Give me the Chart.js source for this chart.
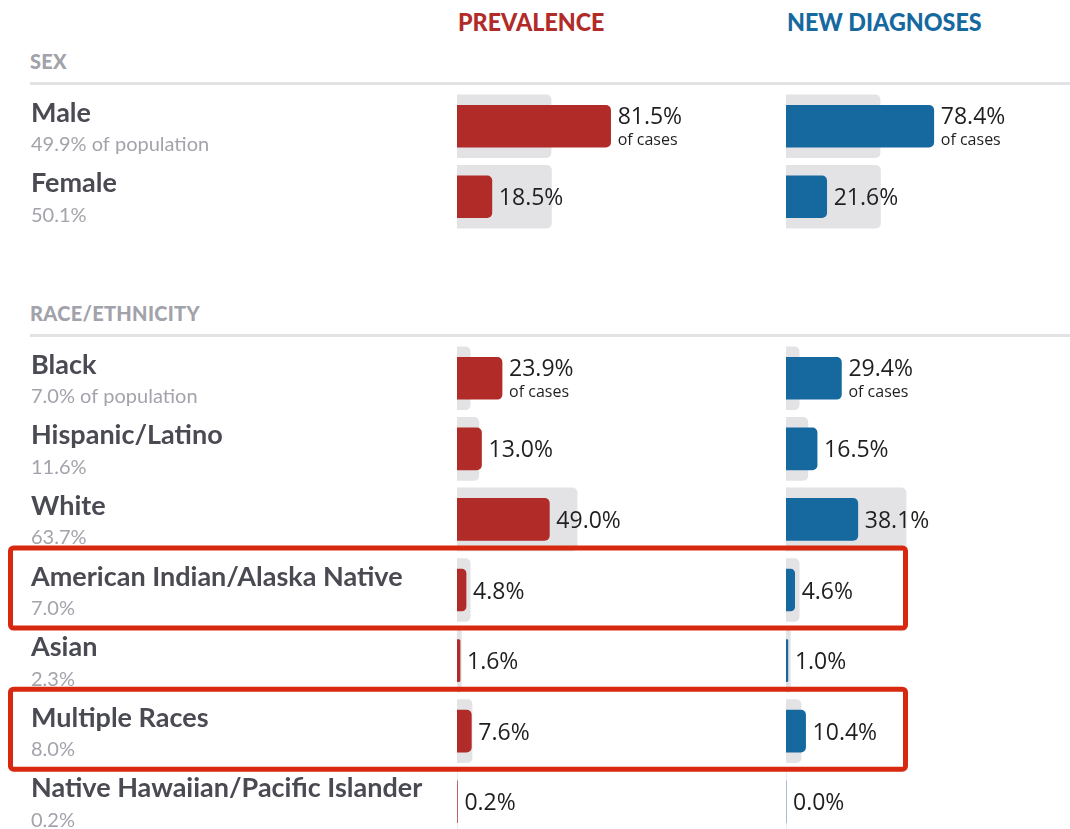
<!DOCTYPE html>
<html>
<head>
<meta charset="utf-8">
<script src="https://cdn.jsdelivr.net/npm/chart.js@4"></script>
<style>
  body { margin: 0; width: 1070px; height: 829px; overflow: hidden; background: #fff; position: relative; font-family: Lato, sans-serif; }
  .abs { position: absolute; line-height: 1; white-space: nowrap; }
  .colhead { font-family: Lato, sans-serif; font-weight: 900; font-size: 25px; top: 9px; transform: scaleX(0.93); transform-origin: 0 0; }
  .section { left: 30px; color: #a2a2aa; font-weight: 900; font-size: 20px; letter-spacing: 0.3px; }
  .rule { position: absolute; left: 30px; width: 1040px; height: 3px; background: #e3e3e6; }
  .stack { position: absolute; left: 0; width: 1070px; }
  .stack canvas { position: absolute; left: 0; top: 0; }
</style>
</head>
<body>
<div class="abs colhead" style="left:458px;color:#b12b29">PREVALENCE</div>
<div class="abs colhead" style="left:787px;color:#16699f">NEW DIAGNOSES</div>

<div class="abs section" style="top:51px">SEX</div>
<div class="rule" style="top:82px"></div>
<div class="stack" style="top:91px;height:141px">
  <canvas id="sexPrev" width="1070" height="141"></canvas>
  <canvas id="sexDiag" width="1070" height="141"></canvas>
</div>

<div class="abs section" style="top:303px">RACE/ETHNICITY</div>
<div class="rule" style="top:334px"></div>
<div class="stack" style="top:343px;height:494px">
  <canvas id="racePrev" width="1070" height="494"></canvas>
  <canvas id="raceDiag" width="1070" height="494"></canvas>
</div>

<script>
// data (percent)
const sexLabels = ['Male', 'Female']
const sexPopulation = [49.9, 50.1]
const sexPrevalence = [81.5, 18.5]
const sexDiagnoses = [78.4, 21.6]

const raceLabels = ['Black', 'Hispanic/Latino', 'White', 'American Indian/Alaska Native', 'Asian', 'Multiple Races', 'Native Hawaiian/Pacific Islander']
const racePopulation = [7.0, 11.6, 63.7, 7.0, 2.3, 8.0, 0.2]
const racePrevalence = [23.9, 13.0, 49.0, 4.8, 1.6, 7.6, 0.2]
const raceDiagnoses = [29.4, 16.5, 38.1, 4.6, 1.0, 10.4, 0.0]

const highlighted = ['American Indian/Alaska Native', 'Multiple Races']

const RED = '#b12b29'
const BLUE = '#16699f'
const GREY = '#e3e3e6'
const SCALE_W = 188.5 // px for 0-100%

// value text next to each coloured bar
const valueLabels = {
  id: 'valueLabels',
  afterDatasetsDraw(chart) {
    const ctx = chart.ctx
    const vals = chart.data.datasets[0].data
    ctx.save()
    ctx.fillStyle = '#1f1f22'
    ctx.textAlign = 'left'
    ctx.textBaseline = 'alphabetic'
    chart.getDatasetMeta(0).data.forEach((bar, i) => {
      const x = bar.x + 7
      const txt = vals[i].toFixed(1) + '%'
      ctx.font = '23px "Open Sans"'
      if (i === 0) {
        ctx.fillText(txt, x, bar.y - 2)
        ctx.font = '16px "Open Sans"'
        ctx.fillText('of cases', x, bar.y + 19)
      } else {
        ctx.fillText(txt, x, bar.y + 8.5)
      }
    })
    ctx.restore()
  }
}

// category name + population share on the left
const rowLabels = {
  id: 'rowLabels',
  afterDraw(chart, args, opts) {
    if (!opts.show) return
    const ctx = chart.ctx
    const y = chart.scales.y
    const pop = chart.data.datasets[1].data
    ctx.save()
    ctx.textAlign = 'left'
    ctx.textBaseline = 'alphabetic'
    chart.data.labels.forEach((name, i) => {
      const cy = y.getPixelForValue(i)
      ctx.fillStyle = '#4a4a52'
      ctx.font = 'bold 27px Lato'
      ctx.fillText(name, 31, cy - 4.5)
      ctx.fillStyle = '#a3a3ab'
      ctx.font = '20px Lato'
      ctx.fillText(pop[i].toFixed(1) + '%' + (i === 0 ? ' of population' : ''), 31, cy + 25)
    })
    ctx.restore()
  }
}

// red boxes around the called-out rows
const highlightRows = {
  id: 'highlightRows',
  afterDraw(chart, args, opts) {
    if (!opts.rows || !opts.rows.length) return
    const ctx = chart.ctx
    const y = chart.scales.y
    ctx.save()
    ctx.strokeStyle = '#d6290f'
    ctx.lineWidth = 5
    opts.rows.forEach(r => {
      const i = chart.data.labels.indexOf(r)
      if (i < 0) return
      const cy = y.getPixelForValue(i)
      ctx.beginPath()
      ctx.roundRect(10.5, cy - 42, 895, 80, 3)
      ctx.stroke()
    })
    ctx.restore()
  }
}

function makeChart(id, labels, cases, population, color, left, opts) {
  return new Chart(document.getElementById(id), {
    type: 'bar',
    data: {
      labels,
      datasets: [
        { data: cases, backgroundColor: color, barThickness: 42, borderRadius: 5, grouped: false },
        { data: population, backgroundColor: GREY, barThickness: 63, borderRadius: 5, grouped: false }
      ]
    },
    options: {
      indexAxis: 'y',
      responsive: false,
      animation: false,
      events: [],
      layout: { padding: { left: left, right: 1070 - left - SCALE_W, top: 0, bottom: 0 } },
      scales: {
        x: { display: false, min: 0, max: 100 },
        y: { display: false }
      },
      plugins: {
        legend: { display: false },
        tooltip: { enabled: false },
        rowLabels: { show: opts.names || false },
        highlightRows: { rows: opts.rows || [] }
      }
    },
    plugins: [valueLabels, rowLabels, highlightRows]
  })
}

makeChart('sexPrev', sexLabels, sexPrevalence, sexPopulation, RED, 457, { names: true })
makeChart('sexDiag', sexLabels, sexDiagnoses, sexPopulation, BLUE, 786, {})
makeChart('racePrev', raceLabels, racePrevalence, racePopulation, RED, 457, { names: true })
makeChart('raceDiag', raceLabels, raceDiagnoses, racePopulation, BLUE, 786, { rows: highlighted })
</script>
</body>
</html>
